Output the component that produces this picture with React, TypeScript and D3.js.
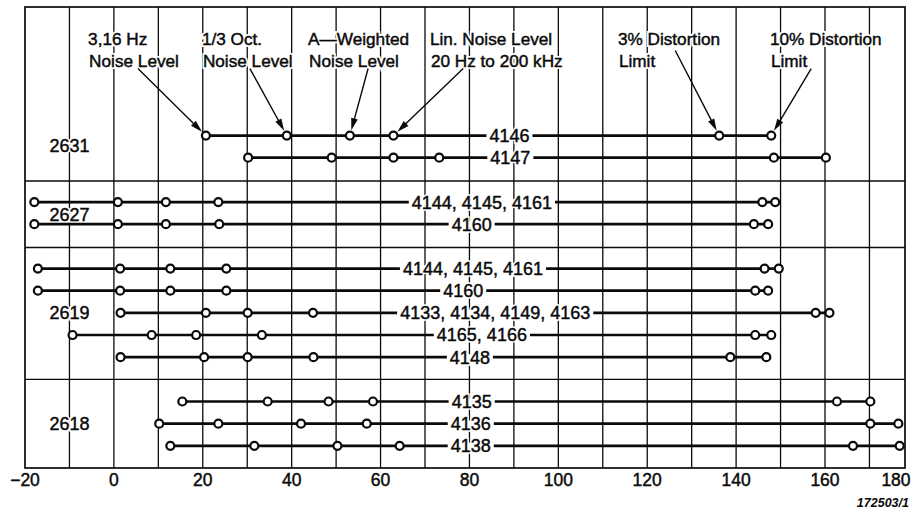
import { useEffect, useRef } from "react"
import * as d3 from "d3"

// amplifier groups and the rows (microphone types) inside them
const groups = ["2631", "2627", "2619", "2618"]
const groupSlots = [0.47, 3.55, 8, 13]
const dividerSlots = [2.05, 5.05, 11]

const rowLabels = [
  "4146",
  "4147",
  "4144, 4145, 4161",
  "4160",
  "4144, 4145, 4161",
  "4160",
  "4133, 4134, 4149, 4163",
  "4165, 4166",
  "4148",
  "4135",
  "4136",
  "4138",
]
const rowSlots = [0, 1, 3, 4, 6, 7, 8, 9, 10, 12, 13, 14]
const rowLabelAt = [89, 89.2, 82.8, 80.5, 80.8, 78.6, 85.8, 82.8, 80.1, 80.5, 80.3, 80.3]

// 3,16 Hz noise, 1/3 oct. noise, A-weighted noise, lin. noise, 3% dist., 10% dist. (dB)
const rowPoints = [
  [20.7, 38.9, 53.1, 62.9, 136.2, 147.9],
  [30.2, 49, 62.9, 73.2, 148.5, 160.2],
  [-17.9, 0.9, 11.7, 23.5, 145.9, 148.8],
  [-17.9, 0.9, 11.7, 23.7, 144, 147.2],
  [-17.1, 1.4, 12.7, 25.3, 146.4, 149.6],
  [-17.1, 1.4, 12.7, 25.3, 144.3, 147.2],
  [1.5, 20.7, 30.1, 44.8, 157.9, 161],
  [-9.3, 8.5, 18.5, 33.3, 144.3, 147.9],
  [1.5, 20.3, 30.1, 44.9, 138.7, 146.8],
  [15.4, 34.6, 48.3, 58.3, 162.7, 170.2],
  [10.2, 23.5, 42.1, 56.9, 170.2, 176.5],
  [12.7, 31.6, 50.3, 64.3, 166.3, 176.8],
]

const annoText = [
  ["3,16 Hz", "Noise Level"],
  ["1/3 Oct.", "Noise Level"],
  ["A—Weighted", "Noise Level"],
  ["Lin. Noise Level", "20 Hz to 200 kHz"],
  ["3% Distortion", "Limit"],
  ["10% Distortion", "Limit"],
]
const annoAt = [-5.8, 19.8, 43.7, 71.1, 113.4, 147.6]
const annoFrom = [5.4, 30.6, 57.2, 78.6, 126.3, 156.9]
const annoHigh = [false, false, false, false, true, false]

const tickValues = [-20, 0, 20, 40, 60, 80, 100, 120, 140, 160, 180]
const gridValues = d3.range(-10, 171, 10)

export default function App() {
  const svgRef = useRef<SVGSVGElement>(null)

  useEffect(() => {
    if (!svgRef.current) return
    const svg = d3.select(svgRef.current)
    svg.selectAll("*").remove()

    const width = 911
    const ink = "#0a0a0a"
    const font = "'Liberation Sans', Arial, sans-serif"
    const x = d3.scaleLinear().domain([-20, 178]).range([25, 905])
    const y = d3.scaleLinear().domain([-5.8, 15]).range([7, 468])
    const [x0, x1] = x.range()
    const [y0, y1] = y.range()
    const r = 4

    // text with a white halo that breaks the grid lines behind it
    function label(g: any, tx: number, ty: number, s: string, size: number, anchor = "start", mid = false, halo = 3.5) {
      const make = () =>
        g.append("text")
          .attr("x", tx)
          .attr("y", ty)
          .attr("dy", mid ? "0.36em" : null)
          .attr("text-anchor", anchor)
          .attr("font-family", font)
          .attr("font-size", size)
          .text(s)
      make().attr("fill", "white").attr("stroke", "white").attr("stroke-width", halo)
      return make().attr("fill", ink).attr("stroke", ink).attr("stroke-width", 0.45)
    }

    svg.append("rect").attr("width", width).attr("height", 511).attr("fill", "white")

    // grid
    svg.append("g")
      .selectAll("line")
      .data(gridValues)
      .join("line")
      .attr("x1", (d) => x(d))
      .attr("x2", (d) => x(d))
      .attr("y1", y0)
      .attr("y2", y1)
      .attr("stroke", ink)
      .attr("stroke-width", 1.3)

    svg.append("g")
      .selectAll("line")
      .data(dividerSlots)
      .join("line")
      .attr("x1", x0)
      .attr("x2", x1)
      .attr("y1", (d) => y(d))
      .attr("y2", (d) => y(d))
      .attr("stroke", ink)
      .attr("stroke-width", 1.4)

    svg.append("rect")
      .attr("x", x0)
      .attr("y", y0)
      .attr("width", x1 - x0)
      .attr("height", y1 - y0)
      .attr("fill", "none")
      .attr("stroke", ink)
      .attr("stroke-width", 1.7)

    // tick labels
    const ticks = svg.append("g")
    tickValues.forEach((d) => {
      label(ticks, Math.min(x(d), width - 15), 486, d < 0 ? `−${-d}` : `${d}`, 17.5, "middle", false, 0)
    })

    // group labels
    const gl = svg.append("g")
    groups.forEach((d, i) => label(gl, x(-10), y(groupSlots[i]), d, 18, "middle", true))

    // rows
    rowLabels.forEach((name, i) => {
      const ry = y(rowSlots[i])
      const pts = rowPoints[i]
      const g = svg.append("g")
      g.append("line")
        .attr("x1", x(d3.min(pts)!))
        .attr("x2", x(d3.max(pts)!))
        .attr("y1", ry)
        .attr("y2", ry)
        .attr("stroke", ink)
        .attr("stroke-width", 2.7)

      const lg = g.append("g")
      const t = label(lg, x(rowLabelAt[i]), ry, name, 18, "middle", true)
      const tw = (t.node() as SVGTextElement).getComputedTextLength()
      lg.insert("rect", "text")
        .attr("x", x(rowLabelAt[i]) - tw / 2 - 3)
        .attr("y", ry - 3)
        .attr("width", tw + 6)
        .attr("height", 6)
        .attr("fill", "white")

      g.selectAll("circle")
        .data(pts)
        .join("circle")
        .attr("cx", (d) => x(d))
        .attr("cy", ry)
        .attr("r", r)
        .attr("fill", "white")
        .attr("stroke", ink)
        .attr("stroke-width", 2.2)
    })

    // annotations pointing at the 4146 row
    const ay = y(rowSlots[0])
    annoText.forEach((lines, i) => {
      const g = svg.append("g")
      lines.forEach((line, j) => label(g, x(annoAt[i]) + j, ay - 90.5 + j * 21.5, line, 17.2, "start", false, 4))
      const sx = x(annoFrom[i])
      const sy = annoHigh[i] ? ay - 85 : ay - 67
      const tx = x(rowPoints[0][i])
      const len = Math.hypot(tx - sx, ay - sy)
      const ux = (tx - sx) / len
      const uy = (ay - sy) / len
      const ex = tx - ux * (r + 1.5)
      const ey = ay - uy * (r + 1.5)
      const hl = 12
      const hw = 3.4
      g.append("line")
        .attr("x1", sx)
        .attr("y1", sy)
        .attr("x2", ex - ux * 4)
        .attr("y2", ey - uy * 4)
        .attr("stroke", ink)
        .attr("stroke-width", 1.4)
      const bx = ex - ux * hl
      const by = ey - uy * hl
      g.append("path")
        .attr("d", `M${ex},${ey}L${bx - uy * hw},${by + ux * hw}L${bx + uy * hw},${by - ux * hw}Z`)
        .attr("fill", ink)
    })

    svg.append("text")
      .attr("x", 909)
      .attr("y", 507)
      .attr("text-anchor", "end")
      .attr("font-family", font)
      .attr("font-size", 12.5)
      .attr("font-weight", "bold")
      .attr("font-style", "italic")
      .attr("fill", ink)
      .text("172503/1")
  }, [])

  return (
    <svg
      ref={svgRef}
      width={911}
      height={511}
      style={{ position: "absolute", left: 0, top: 0, display: "block" }}
    />
  )
}
